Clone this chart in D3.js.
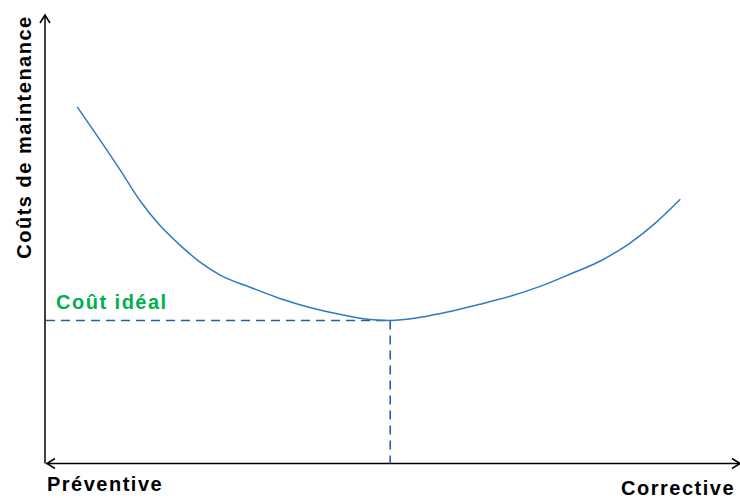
<!DOCTYPE html>
<html>
<head>
<meta charset="utf-8">
<script src="https://cdn.jsdelivr.net/npm/d3@7"></script>
<style>
  html, body { margin: 0; padding: 0; background: #fff; }
  svg text { font-family: "Liberation Sans", Arial, sans-serif; font-weight: bold; letter-spacing: 1.5px; }
</style>
</head>
<body>
<svg id="chart" width="740" height="498"></svg>
<script>
// curve points (x = maintenance mix, y = cost)
const costX = [4.5, 7.8, 10.7, 13.5, 16.4, 19.3, 22.2, 25.1, 29.4, 33.7, 38.0, 42.3, 46.7, 49.6, 53.9, 58.2, 62.5, 66.9, 71.2, 75.5, 79.8, 84.1, 87.8, 91.4];
const costY = [79.5, 72.1, 65.4, 58.7, 53.1, 48.7, 44.9, 42.0, 39.3, 36.8, 34.8, 33.3, 32.1, 31.9, 32.6, 33.9, 35.5, 37.3, 39.5, 42.2, 45.1, 49.1, 53.6, 58.9];
const idealX = 49.6;
const idealY = 31.9;
const labels = { y: 'Coûts de maintenance', left: 'Préventive', right: 'Corrective', ideal: 'Coût idéal' };

const svg = d3.select('#chart');

const xScale = d3.scaleLinear().domain([0, 100]).range([46, 740]);
const yScale = d3.scaleLinear().domain([0, 100]).range([463.5, 15]);

const x0 = xScale(0), y0 = yScale(0);

// axes as open arrows
const axis = svg.append('g').attr('stroke', '#000').attr('stroke-width', 1.5).attr('fill', 'none');
axis.append('line').attr('x1', x0 - 1).attr('y1', y0).attr('x2', x0 - 1).attr('y2', yScale(100));
axis.append('path').attr('d', `M${x0 - 6},${yScale(100) + 8} L${x0 - 1},${yScale(100)} L${x0 + 4},${yScale(100) + 8}`);
axis.append('line').attr('x1', x0).attr('y1', y0).attr('x2', xScale(100)).attr('y2', y0);
axis.append('path').attr('d', `M${x0 + 9},${y0 - 5} L${x0 + 1},${y0} L${x0 + 9},${y0 + 5}`);
axis.append('path').attr('d', `M${xScale(100) - 8},${y0 - 5} L${xScale(100)},${y0} L${xScale(100) - 8},${y0 + 5}`);

// dashed guides to the ideal point
const guide = svg.append('g').attr('stroke', '#1f62ae').attr('stroke-width', 1.6).attr('stroke-dasharray', '9,6');
guide.append('line').attr('x1', x0).attr('y1', yScale(idealY)).attr('x2', xScale(idealX)).attr('y2', yScale(idealY));
guide.append('line').attr('x1', xScale(idealX)).attr('y1', yScale(idealY)).attr('x2', xScale(idealX)).attr('y2', y0);

// cost curve
const pts = costX.map((x, i) => [x, costY[i]]);
const line = d3.line().x(d => xScale(d[0])).y(d => yScale(d[1])).curve(d3.curveMonotoneX);
svg.append('path').datum(pts).attr('d', line).attr('fill', 'none').attr('stroke', '#2e7bc4').attr('stroke-width', 1.5);

// texts
svg.append('text').attr('transform', 'translate(31,137) rotate(-90)').attr('text-anchor', 'middle')
  .attr('font-size', 20).attr('fill', '#000').text(labels.y);
svg.append('text').attr('x', 47).attr('y', 491).attr('font-size', 20).attr('fill', '#000').text(labels.left);
svg.append('text').attr('x', 735).attr('y', 495).attr('text-anchor', 'end').attr('font-size', 20).attr('fill', '#000').text(labels.right);
svg.append('text').attr('x', 56).attr('y', 309).attr('font-size', 20).attr('fill', '#00b050').text(labels.ideal);
</script>
</body>
</html>
